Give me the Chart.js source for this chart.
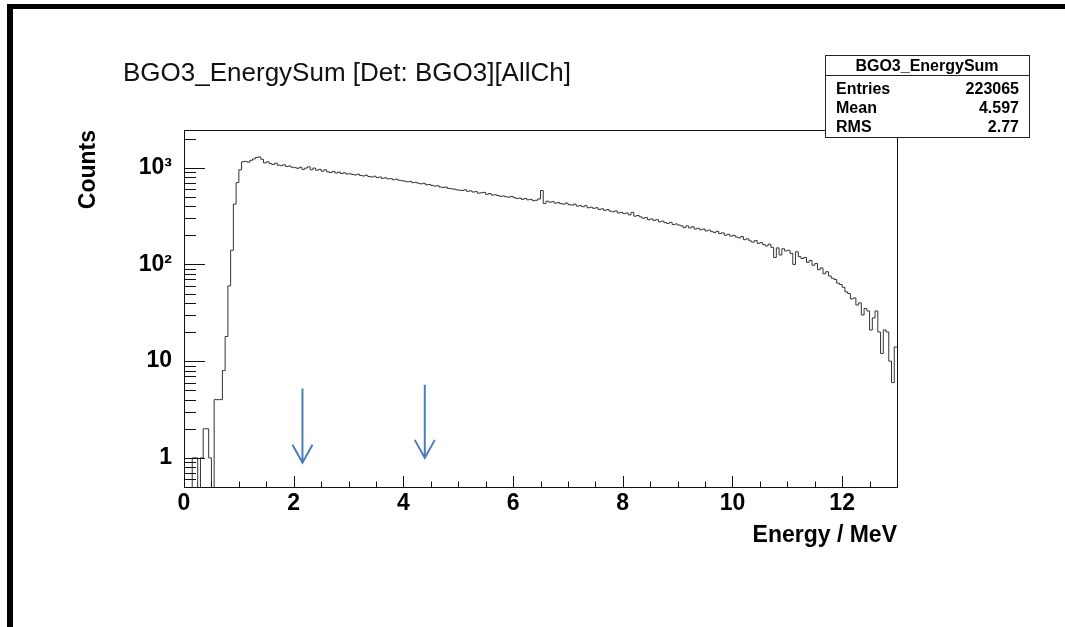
<!DOCTYPE html>
<html>
<head>
<meta charset="utf-8">
<title>BGO3_EnergySum</title>
<script src="https://cdn.jsdelivr.net/npm/chart.js@4.4.1/dist/chart.umd.min.js"></script>
<style>
  html, body { margin: 0; padding: 0; background: #fff; overflow: hidden; }
  #frame { position: absolute; left: 7px; top: 4px; right: 0; bottom: 0; border-left: 6px solid #000; border-top: 5px solid #000; }
  #plot { position: absolute; left: 0; top: 0; }
</style>
</head>
<body>
<div id="frame"></div>
<canvas id="plot" width="1065" height="627"></canvas>
<script>
// histogram: counts per 0.05 MeV bin, from 0 to 13 MeV
const binWidth = 0.05;
const counts = [
  0, 0, 0, 1, 1, 0, 1, 2, 2, 1, 0, 4, 4, 4, 8, 18, 60, 140, 420, 700,
  950, 1150, 1160, 1140, 1190, 1230, 1270, 1290, 1220, 1120, 1150, 1100, 1080, 1110, 1060, 1050, 1070, 1030, 1040, 1010,
  1000, 985, 1010, 960, 990, 1020, 950, 990, 940, 960, 920, 950, 905, 890, 915, 880, 900, 870, 885, 860,
  865, 850, 840, 855, 830, 820, 835, 810, 800, 815, 790, 800, 775, 785, 765, 770, 750, 760, 740, 735,
  725, 715, 720, 700, 705, 690, 680, 690, 665, 670, 655, 645, 650, 630, 625, 630, 610, 605, 600, 590,
  585, 580, 590, 570, 575, 560, 565, 545, 550, 555, 530, 540, 520, 525, 515, 505, 510, 500, 495, 505,
  490, 480, 485, 470, 480, 465, 470, 455, 460, 475, 580, 425, 450, 440, 445, 430, 435, 425, 420, 430,
  415, 410, 420, 400, 405, 395, 405, 385, 390, 380, 385, 370, 375, 362, 368, 355, 350, 357, 340, 345,
  335, 340, 325, 345, 315, 320, 310, 300, 305, 290, 295, 285, 290, 275, 280, 270, 265, 272, 258, 262,
  255, 250, 240, 250, 238, 245, 232, 236, 228, 232, 222, 226, 218, 214, 220, 208, 212, 200, 205, 196,
  200, 192, 188, 194, 180, 184, 175, 170, 176, 165, 168, 160, 155, 162, 150, 118, 148, 125, 145, 138,
  140, 130, 100, 135, 120, 115, 118, 105, 110, 98, 102, 88, 92, 80, 84, 76, 72, 70, 64, 62,
  58, 52, 50, 44, 45, 38, 40, 30, 35, 33, 21, 28, 33, 20, 12, 21, 20, 10, 6, 14
];

const xTickValues = [0, 2, 4, 6, 8, 10, 12];
const xMinorTicks = [0.5, 1, 1.5, 2.5, 3, 3.5, 4.5, 5, 5.5, 6.5, 7, 7.5, 8.5, 9, 9.5, 10.5, 11, 11.5, 12.5];
const yTickValues = [1, 10, 100, 1000];
const yTickLabels = ["1", "10", "10²", "10³"];
const yMinorTicks = [0.6, 0.7, 0.8, 0.9, 2, 3, 4, 5, 6, 7, 8, 9, 20, 30, 40, 50, 60, 70, 80, 90,
  200, 300, 400, 500, 600, 700, 800, 900, 2000];

const histTitle = "BGO3_EnergySum [Det: BGO3][AllCh]";
const statsTitle = "BGO3_EnergySum";
const statsNames = ["Entries", "Mean", "RMS"];
const statsValues = ["223065", "4.597", "2.77"];

// blue arrows marking the two lines (energy in MeV, tail and tip in counts)
const arrowEnergies = [2.16, 4.39];
const arrowTails = [5.2, 5.7];
const arrowTips = [0.89, 1.0];

const FONT = "'Liberation Sans', Arial, Helvetica, sans-serif";
Chart.defaults.font.family = FONT;

// points at the low edge of each bin, plus the closing edge at 13 MeV
// empty bins are pushed below the axis floor, like ROOT draws them on log scale
const points = counts.map((c, i) => ({ x: +(i * binWidth).toFixed(2), y: c > 0 ? c : 0.1 }));
points.push({ x: counts.length * binWidth, y: points[points.length - 1].y });

const rootDecor = {
  id: "rootDecor",
  afterDraw(chart) {
    const { ctx, chartArea: a, scales: { x, y } } = chart;
    ctx.save();

    // frame
    ctx.strokeStyle = "#111";
    ctx.lineWidth = 1;
    ctx.strokeRect(Math.round(a.left) + 0.5, Math.round(a.top) + 0.5,
      Math.round(a.right - a.left), Math.round(a.bottom - a.top));

    // ticks drawn inward, ROOT style
    ctx.beginPath();
    xTickValues.forEach(v => {
      const px = Math.round(x.getPixelForValue(v)) + 0.5;
      ctx.moveTo(px, a.bottom); ctx.lineTo(px, a.bottom - 11);
    });
    xMinorTicks.forEach(v => {
      const px = Math.round(x.getPixelForValue(v)) + 0.5;
      ctx.moveTo(px, a.bottom); ctx.lineTo(px, a.bottom - 5.5);
    });
    yTickValues.forEach(v => {
      const py = Math.round(y.getPixelForValue(v)) + 0.5;
      ctx.moveTo(a.left, py); ctx.lineTo(a.left + 21, py);
    });
    yMinorTicks.forEach(v => {
      const py = Math.round(y.getPixelForValue(v)) + 0.5;
      ctx.moveTo(a.left, py); ctx.lineTo(a.left + 12, py);
    });
    ctx.stroke();

    // arrows
    ctx.strokeStyle = "#4a7ebb";
    ctx.lineWidth = 2;
    arrowEnergies.forEach((e, i) => {
      const px = x.getPixelForValue(e);
      const y0 = y.getPixelForValue(arrowTails[i]);
      const y1 = y.getPixelForValue(arrowTips[i]);
      ctx.beginPath();
      ctx.moveTo(px, y0); ctx.lineTo(px, y1);
      ctx.moveTo(px - 10, y1 - 18); ctx.lineTo(px, y1); ctx.lineTo(px + 10, y1 - 18);
      ctx.stroke();
    });

    // histogram title
    ctx.fillStyle = "#111";
    ctx.font = "26px " + FONT;
    ctx.textAlign = "left";
    ctx.textBaseline = "alphabetic";
    ctx.fillText(histTitle, 123, 81);

    // stats box
    const bx = 825, by = 55, bw = 204, bh = 82;
    ctx.fillStyle = "#fff";
    ctx.fillRect(bx, by, bw, bh);
    ctx.strokeStyle = "#222";
    ctx.lineWidth = 1;
    ctx.strokeRect(bx + 0.5, by + 0.5, bw, bh);
    ctx.beginPath();
    ctx.moveTo(bx, by + 20.5); ctx.lineTo(bx + bw, by + 20.5);
    ctx.stroke();
    ctx.fillStyle = "#000";
    ctx.font = "bold 16px " + FONT;
    ctx.textAlign = "center";
    ctx.fillText(statsTitle, bx + bw / 2, by + 16);
    statsNames.forEach((name, i) => {
      const ty = by + 39 + i * 19;
      ctx.textAlign = "left";
      ctx.fillText(name, bx + 11, ty);
      ctx.textAlign = "right";
      ctx.fillText(statsValues[i], bx + bw - 10, ty);
    });

    ctx.restore();
  }
};

const ctx = document.getElementById("plot").getContext("2d");

new Chart(ctx, {
  type: "line",
  data: {
    datasets: [{
      label: statsTitle,
      data: points,
      stepped: "before",
      borderColor: "#333",
      borderWidth: 1,
      pointRadius: 0,
      fill: false
    }]
  },
  options: {
    responsive: false,
    animation: false,
    layout: { padding: { left: 0, top: 130, right: 168, bottom: 0 } },
    plugins: {
      legend: { display: false },
      tooltip: { enabled: false }
    },
    scales: {
      x: {
        type: "linear",
        min: 0,
        max: 13,
        grid: { display: false, drawTicks: false },
        border: { display: false },
        afterBuildTicks: s => { s.ticks = xTickValues.map(v => ({ value: v })); },
        afterFit: s => { s.height = 140; },
        ticks: {
          padding: 3,
          color: "#000",
          maxRotation: 0,
          autoSkip: false,
          font: { size: 23, weight: "bold" }
        },
        title: {
          display: true,
          text: "Energy / MeV",
          align: "end",
          color: "#000",
          padding: { top: 0, bottom: 78 },
          font: { size: 23, weight: "bold" }
        }
      },
      y: {
        type: "logarithmic",
        min: 0.5,
        max: 2450,
        grid: { display: false, drawTicks: false },
        border: { display: false },
        afterBuildTicks: s => { s.ticks = yTickValues.map(v => ({ value: v })); },
        afterFit: s => { s.width = 184; },
        ticks: {
          padding: 12,
          color: "#000",
          autoSkip: false,
          font: { size: 23, weight: "bold" },
          callback: v => yTickLabels[yTickValues.indexOf(v)] ?? ""
        },
        title: {
          display: true,
          text: "Counts",
          align: "end",
          color: "#000",
          padding: { top: 75, bottom: 0 },
          font: { size: 23, weight: "bold" }
        }
      }
    }
  },
  plugins: [rootDecor]
});
</script>
</body>
</html>
